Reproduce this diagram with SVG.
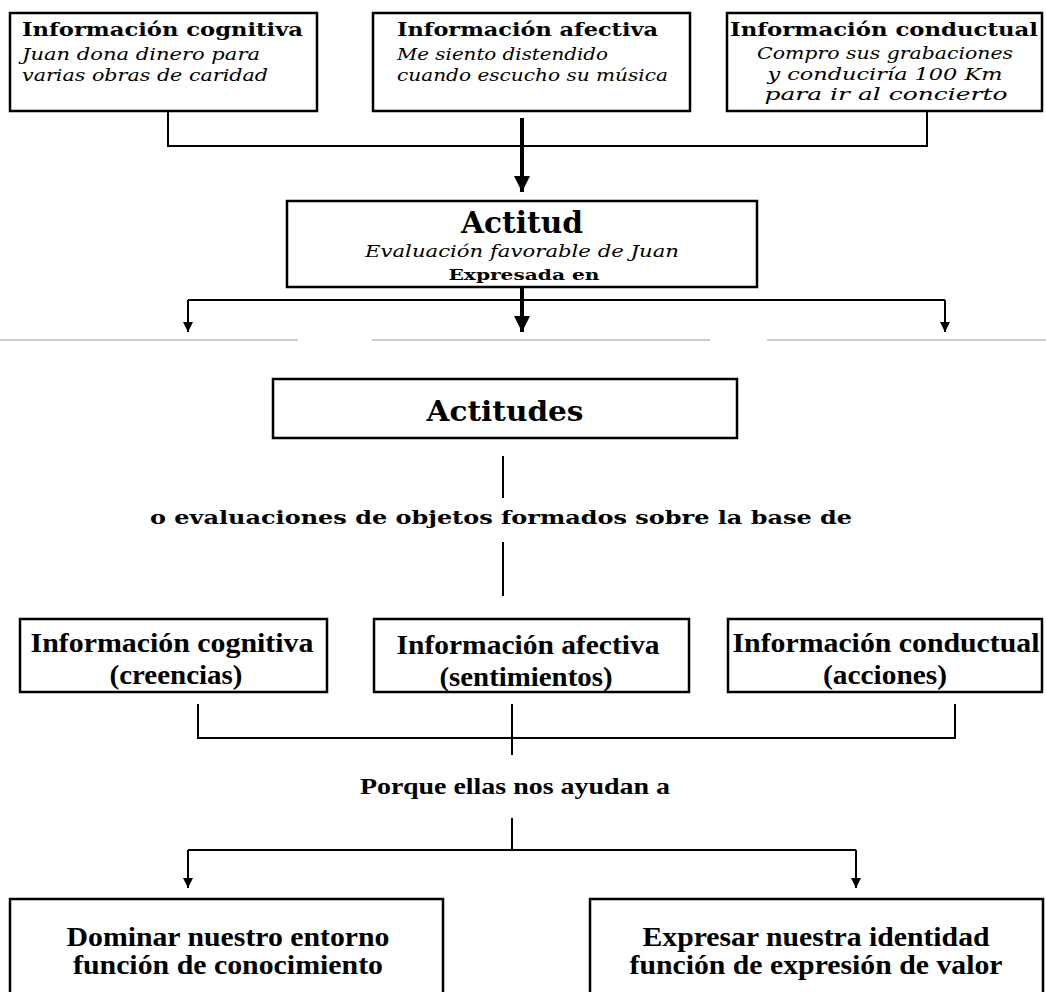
<svg xmlns="http://www.w3.org/2000/svg" width="1046" height="992" viewBox="0 0 1046 992">
  <defs>
    <style>
      .box { fill: #fff; stroke: #000; stroke-width: 2.5; }
      .wire { fill: none; stroke: #000; stroke-width: 2; }
      .thick { fill: none; stroke: #000; stroke-width: 4; }
      .sep { fill: none; stroke: #bdbdbd; stroke-width: 1.5; }
      .hd { font-family: "DejaVu Serif", "Liberation Serif", serif; font-weight: bold; fill: #000; }
      .it { font-family: "DejaVu Serif", "Liberation Serif", serif; font-style: italic; fill: #000; }
      .cd { font-family: "Liberation Serif", "Times New Roman", serif; font-weight: bold; fill: #000; }
    </style>
    <marker id="ah" viewBox="0 0 10 10" refX="10" refY="5" markerWidth="4" markerHeight="4" orient="auto" markerUnits="strokeWidth">
      <path d="M0,0 L10,5 L0,10 z" fill="#000"/>
    </marker>
    <marker id="ahs" viewBox="0 0 10 10" refX="10" refY="5" markerWidth="5" markerHeight="5" orient="auto" markerUnits="strokeWidth">
      <path d="M0,0 L10,5 L0,10 z" fill="#000"/>
    </marker>
  </defs>

  <rect width="1046" height="992" fill="#fff"/>

  <!-- connectors -->
  <g id="connectors">
    <!-- top three boxes join and feed Actitud -->
    <path class="wire" d="M168,111 V146 H927 V111"/>
    <path class="thick" d="M522,118 V192" marker-end="url(#ah)"/>
    <!-- Actitud fans out -->
    <path class="thick" d="M522,286 V332" marker-end="url(#ah)"/>
    <path class="wire" d="M188,300 H945"/>
    <path class="wire" d="M188,300 V332" marker-end="url(#ahs)"/>
    <path class="wire" d="M945,300 V332" marker-end="url(#ahs)"/>
    <!-- separator under the upper panel -->
    <path class="sep" d="M0,340 H298 M372,340 H710 M767,340 H1046"/>
    <!-- Actitudes stem -->
    <path class="wire" d="M503,456 V498 M503,542 V596"/>
    <!-- lower three boxes joined -->
    <path class="wire" d="M198,704 V738 H955 V704 M512,704 V755"/>
    <!-- split to the two functions -->
    <path class="wire" d="M512,818 V850 M188,850 H856"/>
    <path class="wire" d="M188,850 V888" marker-end="url(#ahs)"/>
    <path class="wire" d="M856,850 V888" marker-end="url(#ahs)"/>
  </g>

  <!-- upper panel -->
  <g id="info-cognitiva-ej">
    <rect class="box" x="10" y="13" width="307" height="98"/>
    <text class="hd" x="22" y="36" font-size="18" textLength="281" lengthAdjust="spacingAndGlyphs">Información cognitiva</text>
    <text class="it" x="22" y="60" font-size="16" textLength="238" lengthAdjust="spacingAndGlyphs">Juan dona dinero para</text>
    <text class="it" x="22" y="81" font-size="16" textLength="246" lengthAdjust="spacingAndGlyphs">varias obras de caridad</text>
  </g>

  <g id="info-afectiva-ej">
    <rect class="box" x="373" y="13" width="317" height="98"/>
    <text class="hd" x="397" y="36" font-size="18" textLength="261" lengthAdjust="spacingAndGlyphs">Información afectiva</text>
    <text class="it" x="397" y="60" font-size="16" textLength="211" lengthAdjust="spacingAndGlyphs">Me siento distendido</text>
    <text class="it" x="397" y="81" font-size="16" textLength="271" lengthAdjust="spacingAndGlyphs">cuando escucho su música</text>
  </g>

  <g id="info-conductual-ej">
    <rect class="box" x="727" y="13" width="315" height="98"/>
    <text class="hd" x="730" y="36" font-size="18" textLength="308" lengthAdjust="spacingAndGlyphs">Información conductual</text>
    <text class="it" x="885" y="59" font-size="16" text-anchor="middle" textLength="256" lengthAdjust="spacingAndGlyphs">Compro sus grabaciones</text>
    <text class="it" x="885" y="80" font-size="16" text-anchor="middle" textLength="235" lengthAdjust="spacingAndGlyphs">y conduciría 100 Km</text>
    <text class="it" x="886" y="100" font-size="16" text-anchor="middle" textLength="243" lengthAdjust="spacingAndGlyphs">para ir al concierto</text>
  </g>

  <g id="actitud">
    <rect class="box" x="287" y="201" width="470" height="86"/>
    <text class="hd" x="522" y="233" font-size="29" text-anchor="middle" textLength="122" lengthAdjust="spacingAndGlyphs">Actitud</text>
    <text class="it" x="522" y="257" font-size="17" text-anchor="middle" textLength="314" lengthAdjust="spacingAndGlyphs">Evaluación favorable de Juan</text>
    <text class="hd" x="524" y="280" font-size="15" text-anchor="middle" textLength="151" lengthAdjust="spacingAndGlyphs">Expresada en</text>
  </g>

  <!-- lower panel -->
  <g id="actitudes">
    <rect class="box" x="273" y="379" width="464" height="59"/>
    <text class="hd" x="505" y="421" font-size="28" text-anchor="middle" textLength="157" lengthAdjust="spacingAndGlyphs">Actitudes</text>
  </g>

  <g id="label-evaluaciones">
    <text class="hd" x="501" y="524" font-size="19" text-anchor="middle" textLength="702" lengthAdjust="spacingAndGlyphs">o evaluaciones de objetos formados sobre la base de</text>
  </g>

  <g id="info-cognitiva">
    <rect class="box" x="20" y="619" width="307" height="73"/>
    <text class="cd" x="172" y="652" font-size="27" text-anchor="middle" textLength="283" lengthAdjust="spacingAndGlyphs">Información cognitiva</text>
    <text class="cd" x="176" y="684" font-size="27" text-anchor="middle" textLength="133" lengthAdjust="spacingAndGlyphs">(creencias)</text>
  </g>

  <g id="info-afectiva">
    <rect class="box" x="374" y="619" width="315" height="73"/>
    <text class="cd" x="528" y="654" font-size="27" text-anchor="middle" textLength="263" lengthAdjust="spacingAndGlyphs">Información afectiva</text>
    <text class="cd" x="526" y="686" font-size="27" text-anchor="middle" textLength="173" lengthAdjust="spacingAndGlyphs">(sentimientos)</text>
  </g>

  <g id="info-conductual">
    <rect class="box" x="728" y="619" width="314" height="73"/>
    <text class="cd" x="886" y="652" font-size="27" text-anchor="middle" textLength="307" lengthAdjust="spacingAndGlyphs">Información conductual</text>
    <text class="cd" x="885" y="684" font-size="27" text-anchor="middle" textLength="124" lengthAdjust="spacingAndGlyphs">(acciones)</text>
  </g>

  <g id="label-porque">
    <text class="cd" x="515" y="794" font-size="24" text-anchor="middle" textLength="310" lengthAdjust="spacingAndGlyphs">Porque ellas nos ayudan a</text>
  </g>

  <g id="funcion-conocimiento">
    <rect class="box" x="10" y="899" width="433" height="110"/>
    <text class="cd" x="228" y="946" font-size="27" text-anchor="middle" textLength="323" lengthAdjust="spacingAndGlyphs">Dominar nuestro entorno</text>
    <text class="cd" x="228" y="974" font-size="27" text-anchor="middle" textLength="310" lengthAdjust="spacingAndGlyphs">función de conocimiento</text>
  </g>

  <g id="funcion-expresion">
    <rect class="box" x="590" y="899" width="453" height="110"/>
    <text class="cd" x="816" y="946" font-size="27" text-anchor="middle" textLength="347" lengthAdjust="spacingAndGlyphs">Expresar nuestra identidad</text>
    <text class="cd" x="816" y="974" font-size="27" text-anchor="middle" textLength="373" lengthAdjust="spacingAndGlyphs">función de expresión de valor</text>
  </g>
</svg>
